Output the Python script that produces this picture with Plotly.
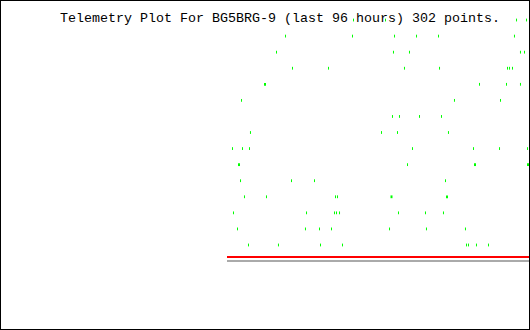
import plotly.graph_objects as go

# Telemetry values: x = hours relative to now (last 96 hours), y = telemetry level
green_hours = [
    -31.91, -26.09, -2.27, -0.45,
    -44.27, -32.09, -24.45, -20.45, -16.45, -2.64,
    -45.91, -24.64, -21.73, -1.55, -0.82,
    -43.00, -36.45, -22.64, -16.27, -3.91, -3.55, -3.00,
    -9.00, -4.09, -1.55,
    -52.27, -13.55, -5.18,
    -24.82, -23.55, -19.91, -15.91,
    -50.64, -26.82, -23.91, -14.64,
    -53.91, -52.09, -50.82, -21.18, -10.09, -5.36, -0.27,
    -22.09,
    -52.45, -43.18, -39.00, -15.18,
    -51.73, -47.73, -35.18, -34.82,
    -53.73, -40.45, -35.36, -35.00, -34.45, -23.73, -18.82, -15.55,
    -53.00, -40.64, -38.09, -35.91, -25.36, -18.64, -11.55,
    -51.00, -45.55, -37.91, -33.91, -11.36, -11.00, -9.55, -7.36,
]
green_values = [
    15, 15, 15, 15,
    14, 14, 14, 14, 14, 14,
    13, 13, 13, 13, 13,
    12, 12, 12, 12, 12, 12, 12,
    11, 11, 11,
    10, 10, 10,
    9, 9, 9, 9,
    8, 8, 8, 8,
    7, 7, 7, 7, 7, 7, 7,
    6,
    5, 5, 5, 5,
    4, 4, 4, 4,
    3, 3, 3, 3, 3, 3, 3, 3,
    2, 2, 2, 2, 2, 2, 2,
    1, 1, 1, 1, 1, 1, 1, 1,
]
# doubled (overlapping) readings
green2_hours = [-48.00, -52.73, -9.82, -0.18, -25.00, -14.91]
green2_values = [11, 6, 6, 6, 4, 4]

red_hours = [-54.91, 0.0]
red_values = [0.25, 0.25]
grey_hours = [-54.91, 0.0]
grey_values = [0.0, 0.0]

title_text = "Telemetry Plot For BG5BRG-9 (last 96 hours) 302 points."

fig = go.Figure()
fig.add_trace(go.Scatter(x=grey_hours, y=grey_values, mode="lines",
                         line=dict(color="#aaaaaa", width=2), hoverinfo="skip"))
fig.add_trace(go.Scatter(x=red_hours, y=red_values, mode="lines",
                         line=dict(color="#ff0000", width=2), hoverinfo="skip"))
fig.add_trace(go.Scatter(x=green_hours, y=green_values, mode="markers",
                         marker=dict(symbol="line-ns", size=2,
                                     line=dict(color="#00ff00", width=1))))
fig.add_trace(go.Scatter(x=green2_hours, y=green2_values, mode="markers",
                         marker=dict(symbol="line-ns", size=2,
                                     line=dict(color="#00ff00", width=2))))

fig.add_annotation(text=title_text, xref="paper", yref="paper",
                   x=(58 - 1) / 528, y=1 - (18 - 1) / 328,
                   xanchor="left", yanchor="middle", showarrow=False,
                   font=dict(family="Liberation Mono", size=13.33, color="black"))

fig.update_layout(
    width=530, height=330,
    margin=dict(l=1, r=1, t=1, b=1, pad=0),
    paper_bgcolor="black", plot_bgcolor="white",
    showlegend=False,
    xaxis=dict(range=[-96, 0], visible=False, fixedrange=True),
    yaxis=dict(range=[-4.227, 16.184], visible=False, fixedrange=True),
)
fig.write_html("out.html", config={"displayModeBar": False})
